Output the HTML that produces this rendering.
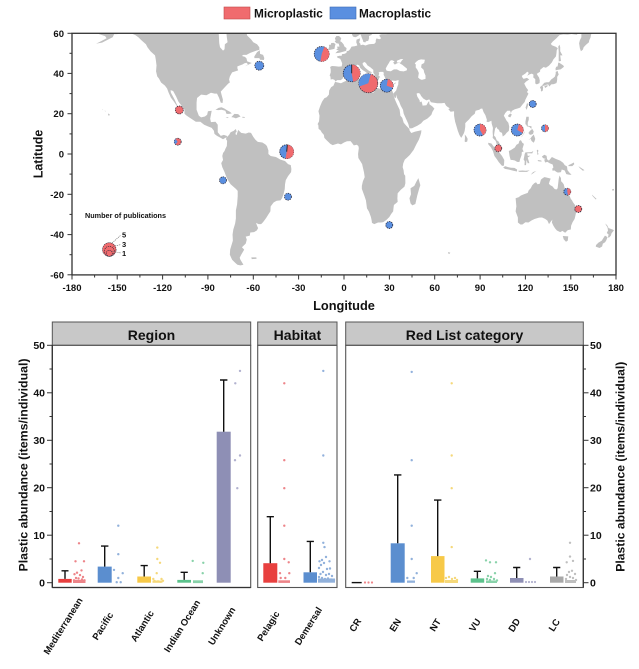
<!DOCTYPE html>
<html><head><meta charset="utf-8"><style>
html,body{margin:0;padding:0;background:#fff;}
svg{display:block;font-family:"Liberation Sans",Arial,sans-serif;font-weight:bold;}
</style></head><body>
<svg width="639" height="669" viewBox="0 0 639 669" xmlns="http://www.w3.org/2000/svg">
<defs><clipPath id="mc"><rect x="72" y="33.3" width="544" height="241.6"/></clipPath></defs>

<!-- Legend top -->
<rect x="224" y="7" width="26" height="12" fill="#f06b6e" stroke="#c24a4a" stroke-width="0.6"/>
<text x="254" y="17.5" font-size="11.8" fill="#111">Microplastic</text>
<rect x="330" y="7" width="26" height="12" fill="#5a8fe0" stroke="#3d6cb5" stroke-width="0.6"/>
<text x="359" y="17.5" font-size="11.8" fill="#111">Macroplastic</text>

<!-- MAP -->
<g clip-path="url(#mc)">
<g transform="translate(344 154) scale(1.512 -2.014)" fill="#c0c0c0">
<polygon points="-170,66 -166,62 -164,60.5 -162,59.5 -158,58.5 -157,57.5 -162,55.5 -164,54.8 -160,55.3 -155,57.2 -153,58 -152,59.5 -150,59.5 -148,60 -146,60.6 -141,60 -138,59 -136,58 -134,56.5 -131,54.5 -130,53 -128,51 -125,49 -124.5,47 -124,44 -124.3,41 -123.5,38.5 -122.4,37.5 -121,35.5 -118.5,34 -117,32.5 -116,30.5 -114.5,28 -112.5,26 -110,23.2 -109.5,23.2 -110.5,24.5 -112,27 -114.5,30.5 -114.7,31.7 -113,31.3 -111,28.5 -109.5,26 -107.5,24 -105.5,22 -105.5,20 -104,19 -101,17.5 -98,16 -95,16 -92.5,14.5 -90,13.7 -87.5,13 -86,11.5 -85.7,10 -84,9 -82,8.2 -80,7.3 -78.5,8 -77.3,8.5 -77.5,9 -79.5,9.5 -81.5,9 -83.5,10.8 -83.5,14.5 -85,16 -88,15.8 -88.5,17.5 -87.5,21.5 -90,21.2 -90.5,19.5 -92,18.6 -94.5,18.2 -96,19 -97.5,22 -97.5,25.5 -97.2,27.8 -94.5,29.5 -91,29.2 -89.5,29.8 -88,30.4 -85.5,30 -84,30 -82.7,28 -81.5,25.5 -80.3,25.3 -80.1,27 -81,29.5 -81.5,31 -79,33 -76.5,35 -75.5,35.5 -76,37 -75.5,38.5 -74,40.5 -72,41 -70,41.5 -70.5,42.5 -70.5,43.5 -67,44.5 -66,45 -64.5,45.3 -63.5,44.5 -65.5,43.5 -61,45.2 -64,46 -64.5,47.5 -65.5,48.2 -68,48.8 -71,47 -66.5,49.2 -64.5,49.2 -62,50.2 -58,51.3 -56,51.7 -56,53 -57.5,54.5 -60,55.5 -61.5,57 -64,58.8 -64.5,60.2 -65,62 -65,66"/>
<polygon points="-50,64 -50,62 -48,60.8 -45,60 -43,60 -42,61 -40,63 -38,64"/>
<polygon points="-59.3,47.6 -56,47.6 -55.5,46.8 -53,46.7 -52.7,47.6 -53.5,49.2 -55.5,49.7 -55.7,51.5 -57.5,50.6 -59.3,48.5"/>
<polygon points="-85,21.9 -83,22.9 -81,23.2 -79,22.5 -77.5,21.8 -75.5,21 -74.2,20.2 -76,19.9 -77.7,19.9 -78.5,21.5 -81,22 -83,21.8"/>
<polygon points="-74.5,18.3 -72.5,19.9 -70,19.8 -68.4,18.6 -70,18.2 -71.5,17.7 -73,18.1"/>
<polygon points="-78.3,18.4 -76.3,18.2 -76.8,17.8 -78,18.2"/>
<polygon points="-67.2,18.5 -65.6,18.4 -65.6,18 -67.2,18"/>
<polygon points="-156,20.2 -154.8,19.5 -155.5,18.9 -156,19.5"/>
<polygon points="-158.3,21.6 -157.6,21.3 -158,21.1"/>
<polygon points="-159.8,22.2 -159.3,22.1 -159.5,21.8"/>
<polygon points="-77.3,8.5 -76,9.5 -75,10.8 -73,11.5 -71.5,12.4 -71,11 -71.8,10.5 -71.5,9.5 -71,9.5 -70,12 -68,10.5 -65,10.1 -63,10.7 -61.5,10.5 -60,8.5 -58.5,7 -57,6 -54,5.7 -52,4.8 -51,4 -50,1.8 -50,0 -48.5,-1 -45,-1.5 -42,-2.8 -39,-3.5 -37,-5 -35.2,-5.5 -34.8,-7.5 -35,-9 -37,-11 -38.5,-13 -39,-15 -39.2,-17.5 -40,-20 -41,-22 -42,-23 -44.5,-23.2 -46.5,-24 -48.5,-26 -48.7,-28.5 -50,-30 -51.5,-31.8 -53.5,-33.8 -54.8,-34.8 -56.5,-34.8 -58.2,-34.2 -57.3,-36 -56.8,-36.8 -57.7,-38 -59.5,-38.8 -62,-39 -62.3,-40.5 -65,-41 -64.3,-42.5 -65,-44.5 -67.5,-46.3 -66,-47.5 -68,-50 -69,-51.5 -68.5,-52.5 -66.5,-55 -68.5,-55.3 -70.5,-55 -72,-54 -74,-52.5 -75.5,-50 -75.3,-47.5 -74.5,-45.5 -73.5,-43 -73.7,-40 -73.2,-37.5 -72,-34.5 -71.5,-32 -71.5,-28 -70.7,-25 -70.3,-21 -70.3,-18.3 -71.5,-17.3 -75,-15 -76.3,-13.5 -77.5,-12 -79,-9 -80.5,-6.5 -81.2,-4.5 -80,-3 -80.5,-1 -80,0.5 -79,1.5 -78.5,2.5 -77.5,4 -77.3,6.5 -78,7.3 -77.8,8.3"/>
<polygon points="-61.3,-51.3 -58,-51.3 -57.8,-52 -61,-52.2"/>
<polygon points="5,64 5,62 5,60.5 5.3,59.3 6,58.3 7.5,58 8.5,58.3 10,59 10.7,59.5 11.3,58.8 11.8,57.7 12.5,56.5 12.8,55.6 14.2,55.4 14.5,56 16,56.2 16.6,57.5 16.5,58.6 18,59 18.8,59.8 17.3,60.6 17.3,61.5 17.5,62.5 21.3,62.5 21.3,60.8 22.5,60 24,60 26,60.4 28,60.5 29.5,60 28,59.5 25,59.5 23.5,59.2 23.5,58.5 24.3,57.8 24.3,57.2 23.3,57 21.5,57.4 21,56.5 21,55.5 20,54.7 18.5,54.6 16.5,54.5 14.2,53.9 12.5,54.3 11,54 10.8,54.8 10,55.5 10.5,56.5 10.5,57.5 9.5,57.1 8.3,56.8 8.1,55.5 8.6,54.5 8.8,53.9 7,53.5 5,53.3 4,52 3.2,51.3 1.8,51 1.6,50.2 0.2,49.7 -1.3,49.6 -1.6,48.7 -3,48.8 -4.7,48.4 -4.3,47.8 -2.5,47.3 -2,46.5 -1.2,45 -1.5,43.5 -3.5,43.4 -5.5,43.6 -8,43.7 -9.2,43.2 -8.8,42 -8.8,40.5 -9.5,39 -9,38.5 -8.8,37.2 -8.9,37 -7.5,37.2 -6.3,36.8 -5.6,36 -4.5,36.7 -2.1,36.7 -0.7,37.6 0.1,38.8 -0.3,39.5 0.9,41 3.2,41.9 3.1,43 4.5,43.5 6.5,43.1 7.5,43.8 8.8,44.4 10.2,43.9 10.5,43 11.2,42.4 12.5,41.6 14,40.9 15.6,40 15.7,38.9 16,38 16.6,38.4 17.1,39 16.5,39.7 17.2,40.4 18.5,40.1 18,40.7 16,41.6 14,42.8 12.5,44.2 12.3,45.2 13.6,45.7 14.5,45.2 15.5,44 17.5,43 19.4,41.8 19.4,40.3 20.2,39.5 21,38.2 21.7,36.8 22.5,36.5 23.1,37.3 23.3,38 24,38.2 22.8,39 23.3,39.8 22.9,40.5 24,40.8 26,40.8 26.3,40.1 26.2,39.3 26.8,38.5 27.3,37.5 27.5,36.8 28.5,36.7 29.7,36.2 30.6,36.8 32,36.5 34,36.3 35.5,36.6 36.2,36.6 35.9,35.5 35.9,34.6 35.5,33.8 35,32.8 34.5,31.5 34.2,31.3 32.6,30 32.6,29.5 33.5,28 34.3,27.8 34.6,29.5 35,28 36.5,26 37.5,24 39,22 39.5,20 41,17.5 42.5,15 43.3,12.7 45,12.8 48.5,14 51,15.2 52.5,16.5 55,17.5 56.5,18.5 57.8,19.5 58.5,21 59.8,22.5 58.5,23.6 56.5,24.7 56.3,26.3 55.5,25.5 54.5,24.2 52,24 51.6,25.3 51.2,26.1 50.2,25.7 50,26.7 48.5,28.5 48,30 49,30.3 50.2,30 51,28.8 52.5,27.5 54.5,26.6 56.4,27.1 57.5,25.7 61.6,25.2 64.5,25.2 66.5,25.4 67.5,24 68.7,23.3 70,22.7 69,22.3 70.5,21 72.8,21.2 72.8,19 73.5,16 74.5,13.5 75.3,11.5 76.3,9.5 77.5,8 78.2,8.8 79.3,10.3 79.8,11.5 80.2,13.5 80.2,15.3 81.5,16.3 82.5,17 84.5,18.8 86.5,20 87,21.5 88.5,21.8 89.5,22 90.5,22.5 91.5,22.5 92.3,20.8 93.5,19.3 94.5,17 94.3,16 95.4,15.8 97.5,16.5 97.7,15 98.5,13 98.3,11 98.5,9 98.3,8 100.3,6.5 101,5 101.3,3 103.5,1.3 104.2,1.4 103.5,3 103.4,4.5 102.2,6.2 101,6.8 100.2,8.4 99.2,9.2 99.5,10.8 100,12.7 100.9,13.5 101.2,12.7 102.5,12 103,11 104.5,10.5 105,8.7 106.5,9.5 107.5,10.5 109,11.5 109.3,13.5 108.7,15.5 107.5,16.6 106.5,18 105.7,19 106.6,20.3 108,21.5 109.8,21.5 110.4,20.3 111,21.4 113,22.2 114.5,22.5 116.5,23 118,24.5 119.5,25.8 120,27 121,28.5 122,30 121,30.8 121.8,31.7 120.5,33 119.5,34.5 119.2,35 120.5,36 122.5,37 121,37.8 118.8,37.3 118,38 117.6,38.8 118.5,39.2 120,40 121.2,40.9 122.2,40.3 121.2,38.8 122.3,39.4 124.2,39.9 125.3,39.4 125.2,38 126.5,37.2 126.5,35 127.5,34.6 129.3,35.2 129.5,36.5 129,38 128.3,38.7 127.5,39.8 129.7,40.9 129.7,41.8 130.7,42.4 132,43.2 133.5,42.8 135.5,43.8 137.5,45.5 138.5,47 140.2,48.5 140.5,50 140.7,51.5 141.4,52.5 140.2,53.2 137.5,54 136.8,54.7 138,55.8 140.5,57.5 142.5,59 145,59.4 148,59.3 150.5,59.6 154,59.2 155,60.2 156,61.5 157,61.5 157,58 156,56.5 155.5,55 156,52.5 156.7,51 158,51.8 158.5,53 160,54.2 162,55.5 162.2,56.5 163,57.7 163.5,59.5 165,60.3 170,60.2 175,62 181,62 181,64"/>
<polygon points="-5.7,50 -3,50.3 1.4,51.2 1.7,52.6 0.3,53.4 -0.3,54.5 -1.6,55.6 -2.5,56 -1.8,57.5 -3.3,58.6 -5,58.6 -6,57.5 -5.5,56.3 -6.2,56 -5,55 -3.5,54.8 -3.2,54 -3,53.3 -4.6,53.3 -4.2,52.3 -5.2,51.8 -3.3,51.4 -4.2,51.2 -5.5,50.2"/>
<polygon points="-10,51.6 -6.3,52.2 -6,53.5 -5.6,54.6 -6.8,55.2 -8.5,55.1 -8.6,54.3 -10,54.2 -9.8,53.3 -10.3,52.2"/>
<polygon points="12.4,38.1 15.6,38.3 15.1,36.7 14.3,37 12.5,37.6"/>
<polygon points="8.4,39 9.8,39.1 9.7,40.8 9.2,41.2 8.2,40.9 8.5,39.8"/>
<polygon points="8.6,41.4 9.4,41.4 9.5,43 8.6,42.4"/>
<polygon points="23.5,35.5 26.3,35.4 26,34.9 24,35 23.5,35.2"/>
<polygon points="32.3,34.7 34.6,35.6 34,35 33,34.6"/>
<polygon points="79.8,6.2 80,8 79.9,9.7 81,8.6 81.8,7.5 81.5,6.2 80.5,5.9"/>
<polygon points="130.9,34 132.5,35.4 134,35.6 135.5,35.6 136,36 137,37 138.5,37.8 139.5,38.5 140,39.8 140,40.8 141.3,41.3 141.5,40.5 142,39.5 141,38.3 141,37 140.8,36 140.5,35.2 139.8,35 138.8,34.7 137,34.6 136.8,34.3 135.8,33.5 135,34.6 133.5,34.3 132,33.8 131,33.9"/>
<polygon points="129.8,33.3 130.9,34 131.7,33.3 131.5,31.5 130.7,31 130.2,31.4 130.3,32.5 129.6,32.6"/>
<polygon points="132.5,33.8 134.7,34.2 134.5,33.5 133,32.8"/>
<polygon points="140,41.5 141.2,41.8 143.3,42 145.5,43.3 145,44 142,45.5 141.6,45 141.3,43.5 140.4,43.3 139.9,42.5"/>
<polygon points="142,46 143.5,46.2 143,49 144.5,49 143,51 143,53 142.5,54.3 141.7,53.3 142,51 142,48"/>
<polygon points="120.1,23 121,25.2 122,25 121.5,23.5 120.8,21.9"/>
<polygon points="108.6,19.2 110,20.1 111,19.6 110,18.2 108.7,18.5"/>
<polygon points="120,16 120.6,18.5 122.2,18.5 122.2,17 121.5,15.5 121.6,14 124,13.8 124,12.5 122.5,13.5 121,13.7 120.6,14.5 120,14.8"/>
<polygon points="122,7 123.5,7.8 124,8.5 125.5,9.7 126.5,7.5 126,6.3 125.4,5.6 124,6.5 123.5,7.5"/>
<polygon points="122,10.5 123,11.5 124.5,12.5 125.5,11.2 125,10 123.5,9.5 122.5,9.8"/>
<polygon points="117.2,8.3 118.5,9.8 119.6,11.4 119.3,10.4 117.6,8.5"/>
<polygon points="109,1.5 109.5,-1 110.2,-2.9 111.5,-3 113,-3.2 114.5,-3.9 116,-4 116.5,-2.5 117.5,-0.5 117.6,1 118.8,1.2 118,2.5 119,5 118,5.5 117,6.9 116,6.5 115.5,5.2 114,4.5 113,3.2 111.5,2.5 110,1.8"/>
<polygon points="95.3,5.6 97.5,5.2 100.2,2.5 102,1.5 104.5,-1 106,-3 105.8,-5.8 104.5,-5.9 102.3,-4 101,-2.5 99.5,-1 98.5,1.5 97.2,3.3 95.5,4.7"/>
<polygon points="105.2,-6.8 106.5,-6 108.5,-6.5 110.5,-6.8 112.7,-6.9 114.5,-7.7 114.4,-8.7 112,-8.3 109.5,-7.8 106.5,-7.4 105.5,-6.9"/>
<polygon points="115,-8.4 118,-8.2 120,-8.3 122.8,-8.1 121,-8.9 116,-8.9"/>
<polygon points="123.5,-10.3 125,-9 127.2,-8.4 125,-9.6"/>
<polygon points="119.4,-5.5 119.5,-3.5 118.8,-2.8 119.5,0 120,0.8 124,0.9 125.2,1.5 124.5,0.3 121.2,0.4 121.5,-0.9 123.3,-0.8 121.5,-1.8 122.6,-4.5 121.5,-4.6 120.7,-2.9 120.4,-5.5"/>
<polygon points="128,-3 130.5,-3.2 130.7,-3.8 128.5,-3.6"/>
<polygon points="127.5,1.8 128,-0.5 128.7,0 128,1 128.7,1.5 128,2.2"/>
<polygon points="131,-1.2 132.5,-0.4 134,-0.9 134.3,-2.6 135.5,-3.3 137.5,-1.5 140,-2.4 143,-3.3 145,-4.4 146,-5.5 147.5,-6.2 147.8,-8 149,-9.2 150.5,-10.3 149,-10.3 147,-10 146,-8.2 144,-7.7 143.5,-9 142,-9.2 141,-9.1 139,-8.1 138,-8.4 137.7,-7.3 138.5,-6.7 138,-5.2 136,-4.6 134.5,-3.9 133,-4.2 132.4,-2.8 133.5,-2.4 132,-2.2 131,-1.5"/>
<polygon points="148.5,-5.5 150,-5 152,-4.2 152.3,-5 151,-6 148.5,-6"/>
<polygon points="155,-6 157,-7 159,-8 158,-8.3 156,-7"/>
<polygon points="113.5,-22 114,-26 113.5,-28.5 115,-31.5 115,-34 116.7,-35 118,-35 120,-33.9 122,-34 124,-33 126,-32.3 129,-31.6 131,-31.5 133,-32.2 134.5,-33 135.6,-34.8 136.8,-33.5 137.8,-32.6 137.5,-34 138.5,-35.6 139.6,-36.9 140.8,-38 143,-38.8 144.5,-38.2 145,-38.5 146.3,-39.1 148,-37.8 150,-37.5 150.2,-35.6 151.2,-33.8 152.5,-32.3 153.1,-30.5 153.6,-28.5 153.1,-26 152.8,-25.3 151.5,-24 150.8,-23 150,-22.3 149.3,-21 148.5,-20 147,-19.2 146.3,-18.5 146,-17 145.3,-15 144.5,-14.2 143.6,-13.5 143.5,-12 142.5,-10.7 142,-12.5 141.6,-15 141.3,-17 140.5,-17.6 139.3,-17.4 137.8,-16 136.5,-15.5 135.5,-14.8 136,-13.5 136.7,-12.2 135.5,-12 133.5,-11.6 132.5,-11.5 131,-12.2 130.2,-12.8 129.5,-14.8 128,-15 127,-14 125.8,-14.5 124.5,-15.5 123.5,-17 122.2,-18 121.5,-19.3 119,-20 117,-20.6 115.5,-21.5 114.2,-21.8"/>
<polygon points="144.7,-40.7 148.3,-40.9 148,-43 146.8,-43.6 145.3,-42.3"/>
<polygon points="172.7,-34.5 174,-35.3 175,-36.8 175.8,-37 178,-37.6 178.5,-38 177,-39.3 176.5,-40.5 175.2,-41.6 174.6,-41.3 175,-40 173.8,-39.2 174.6,-38 174.3,-36.5"/>
<polygon points="172.6,-40.5 174.3,-41.3 173.5,-42.8 172.7,-43.8 171.2,-44.5 170.7,-45.9 169,-46.7 166.5,-46 166.7,-45.2 168.3,-44 170.5,-43 171.5,-41.8"/>
<polygon points="164,-20.2 167,-22.3 166.5,-22.6 164.3,-20.8"/>
<polygon points="177.3,-17.5 178.6,-17.3 178.4,-18.2 177.4,-18.1"/>
<polygon points="68.8,-48.7 70.3,-49 69.8,-49.6 68.9,-49.4"/>
<polygon points="-5.9,35.8 -2,35.1 0,35.9 3,36.8 6.5,37 8.5,36.9 10,37.3 11,37 10.5,36.3 11,35.5 10.1,34.3 10.5,33.7 11.5,33.2 13,32.9 15.3,32.3 15.8,31.4 18,30.8 19.5,30.4 20.1,31.2 20,32.1 21.5,32.9 23,32.6 25,31.9 27,31.4 29,30.9 30.5,31.5 32,31.2 32.6,30 32.6,29.5 33.5,27.5 34,26.5 35.5,24 36.8,22 37.3,19 38.5,18 39.5,15.5 41.2,14 43.2,12.5 43.4,11.6 44.5,10.4 47,11.1 51.2,11.8 51,10.4 50.5,9.2 49.5,7.1 48,5 46,2 43.5,-0.5 41.5,-1.9 40.2,-2.8 39.2,-4.6 38.8,-6.5 39.4,-8 39.7,-10 40.5,-10.8 40.6,-14.5 40,-16.2 37.5,-17.8 35.5,-19.5 35.3,-22 35.5,-23.8 33,-25.3 32.8,-26.5 32.5,-28.5 31.2,-29.8 30,-31.3 28,-32.8 26,-33.8 24.5,-34 22.5,-34 20,-34.8 18.5,-34.2 18.3,-33 17.8,-31.3 16.5,-28.6 15.2,-27 14.5,-23 13.5,-20.8 11.8,-17.3 11.8,-15.8 12.5,-13.5 13.7,-11.5 13.2,-9 12.3,-6.1 12,-5 11,-3.8 9.5,-2 9.3,0 9.8,3 9.5,4 8.5,4.6 6.5,4.3 5,5.8 4.3,6.4 2,6.3 0,5.7 -2,4.8 -4,5.2 -7.5,4.4 -9,5 -11.5,6.8 -13,8 -13.3,9.5 -14.7,10.7 -15.5,11.7 -16.8,12.5 -17,14.5 -17.5,14.8 -16.5,16.2 -16.2,19 -16.9,21.3 -15.8,23.7 -14.5,26 -13,27.7 -11.5,28.2 -10,29.5 -9.8,31.5 -8.5,33.2 -7,33.9 -6.5,34.8"/>
<polygon points="49.2,-12 50.5,-15.5 49.8,-17 48.5,-20.5 47.2,-24.8 45.2,-25.5 44,-24.5 43.3,-22 44.3,-20 44,-17 46.5,-15.8 48,-13.5"/>
<g fill="#fff">
<polygon points="27.6,42.5 28,41.5 29,41.2 31,41.1 33,42 35,42 37,41.2 39.5,41 41.5,41.5 41.7,42.3 40,43.4 38.5,44.3 37.3,44.8 36.6,45.3 35.5,45.1 35,45 33.6,44.4 32.5,45.4 33.5,46 31.7,46.6 30.5,46.3 29.7,45.2 28.7,44 28,43"/>
<polygon points="35,45.5 35,46.3 37.5,47.1 39.2,47.2 38,46.2 37.6,45.5 36.5,45.3"/>
<polygon points="47.5,45.6 49.2,46.6 51,47 53.5,46.8 53,45.2 51.3,44.5 51,43 52.7,41.8 53,40.5 53.9,39 53.9,37.3 51.5,36.8 50.2,37.2 49,38 49.5,40.2 48.6,41.8 47.4,43 47.5,44.5 46.8,44.8"/>
<polygon points="-83,62 -82.5,55 -82,53 -80,51.3 -79,52 -78.8,54.5 -77,55.5 -77.5,58 -78,62"/>
</g>
</g>
</g>

<!-- map frame -->
<g stroke="#333" stroke-width="1.3" fill="none">
<rect x="72" y="33.3" width="544" height="241.6"/>
</g>
<g stroke="#333" stroke-width="1">
<line x1="67.5" y1="33.3" x2="72" y2="33.3"/><line x1="67.5" y1="73.4" x2="72" y2="73.4"/><line x1="67.5" y1="113.7" x2="72" y2="113.7"/><line x1="67.5" y1="154" x2="72" y2="154"/><line x1="67.5" y1="194.3" x2="72" y2="194.3"/><line x1="67.5" y1="234.6" x2="72" y2="234.6"/><line x1="67.5" y1="274.8" x2="72" y2="274.8"/>
<line x1="69.5" y1="53.3" x2="72" y2="53.3"/><line x1="69.5" y1="93.6" x2="72" y2="93.6"/><line x1="69.5" y1="133.9" x2="72" y2="133.9"/><line x1="69.5" y1="174.1" x2="72" y2="174.1"/><line x1="69.5" y1="214.4" x2="72" y2="214.4"/><line x1="69.5" y1="254.7" x2="72" y2="254.7"/>
<line x1="72" y1="275" x2="72" y2="279.5"/><line x1="117.2" y1="275" x2="117.2" y2="279.5"/><line x1="162.6" y1="275" x2="162.6" y2="279.5"/><line x1="207.9" y1="275" x2="207.9" y2="279.5"/><line x1="253.3" y1="275" x2="253.3" y2="279.5"/><line x1="298.6" y1="275" x2="298.6" y2="279.5"/><line x1="344" y1="275" x2="344" y2="279.5"/><line x1="389.4" y1="275" x2="389.4" y2="279.5"/><line x1="434.7" y1="275" x2="434.7" y2="279.5"/><line x1="480.1" y1="275" x2="480.1" y2="279.5"/><line x1="525.4" y1="275" x2="525.4" y2="279.5"/><line x1="570.8" y1="275" x2="570.8" y2="279.5"/><line x1="616" y1="275" x2="616" y2="279.5"/>
<line x1="94.6" y1="275" x2="94.6" y2="277.5"/><line x1="139.9" y1="275" x2="139.9" y2="277.5"/><line x1="185.3" y1="275" x2="185.3" y2="277.5"/><line x1="230.6" y1="275" x2="230.6" y2="277.5"/><line x1="276" y1="275" x2="276" y2="277.5"/><line x1="321.3" y1="275" x2="321.3" y2="277.5"/><line x1="366.7" y1="275" x2="366.7" y2="277.5"/><line x1="412" y1="275" x2="412" y2="277.5"/><line x1="457.4" y1="275" x2="457.4" y2="277.5"/><line x1="502.7" y1="275" x2="502.7" y2="277.5"/><line x1="548.1" y1="275" x2="548.1" y2="277.5"/><line x1="593.4" y1="275" x2="593.4" y2="277.5"/>
</g>
<g font-size="9.5" fill="#111" text-anchor="end">
<text x="64" y="36.8">60</text><text x="64" y="76.9">40</text><text x="64" y="117.2">20</text><text x="64" y="157.5">0</text><text x="64" y="197.8">-20</text><text x="64" y="238.1">-40</text><text x="64" y="278.3">-60</text>
</g>
<g font-size="9.5" fill="#111" text-anchor="middle">
<text x="72" y="291">-180</text><text x="117.2" y="291">-150</text><text x="162.6" y="291">-120</text><text x="207.9" y="291">-90</text><text x="253.3" y="291">-60</text><text x="298.6" y="291">-30</text><text x="344" y="291">0</text><text x="389.4" y="291">30</text><text x="434.7" y="291">60</text><text x="480.1" y="291">90</text><text x="525.4" y="291">120</text><text x="570.8" y="291">150</text><text x="616" y="291">180</text>
</g>
<text x="344" y="310" font-size="12.8" text-anchor="middle" fill="#111">Longitude</text>
<text transform="translate(42.5 154) rotate(-90)" font-size="12.5" text-anchor="middle" fill="#111">Latitude</text>

<!-- pies -->
<g stroke="#223" stroke-width="0.7" stroke-dasharray="1.4 0.9">
<circle cx="259.3" cy="65.7" r="4.5" fill="#5a8fe0"/>
<circle cx="179.3" cy="110" r="4" fill="#f06b6e"/>
<circle cx="177.7" cy="141.7" r="3.5" fill="#f06b6e"/>
<circle cx="286.7" cy="151.7" r="7" fill="#5a8fe0"/>
<circle cx="223" cy="180.3" r="3.5" fill="#5a8fe0"/>
<circle cx="288" cy="196.7" r="3.5" fill="#5a8fe0"/>
<circle cx="321.7" cy="54" r="7.5" fill="#5a8fe0"/>
<circle cx="351.7" cy="73.3" r="8.5" fill="#5a8fe0"/>
<circle cx="368.3" cy="83.3" r="9.5" fill="#f06b6e"/>
<circle cx="386.7" cy="85.7" r="6.5" fill="#5a8fe0"/>
<circle cx="532.7" cy="104" r="3.5" fill="#5a8fe0"/>
<circle cx="480" cy="130" r="6" fill="#5a8fe0"/>
<circle cx="517.3" cy="130" r="6" fill="#5a8fe0"/>
<circle cx="545" cy="128.3" r="3.5" fill="#5a8fe0"/>
<circle cx="498.3" cy="148.3" r="3.5" fill="#f06b6e"/>
<circle cx="389.3" cy="225" r="3.5" fill="#5a8fe0"/>
<circle cx="567.3" cy="191.7" r="3.5" fill="#5a8fe0"/>
<circle cx="578.3" cy="209" r="3.5" fill="#f06b6e"/>
</g>
<g stroke="none">
<path d="M286.7,151.7 L287.31,144.73 A7,7 0 1 1 285.48,158.59 Z" fill="#f06b6e"/>
<path d="M321.7,54 L324.27,46.95 A7.5,7.5 0 0 1 320.40,61.39 Z" fill="#f06b6e"/>
<path d="M351.7,73.3 L351.7,64.8 A8.5,8.5 0 0 1 353.18,81.67 Z" fill="#f06b6e"/>
<path d="M368.3,83.3 L359.37,86.55 A9.5,9.5 0 0 1 370.76,74.12 Z" fill="#5a8fe0"/>
<path d="M386.7,85.7 L387.83,79.30 A6.5,6.5 0 0 1 392.81,87.92 Z" fill="#f06b6e"/>
<path d="M480,130 L480,124 A6,6 0 0 1 483,135.2 Z" fill="#f06b6e"/>
<path d="M517.3,130 L518.85,124.2 A6,6 0 0 1 522.5,133 Z" fill="#f06b6e"/>
<path d="M545,128.3 L545,124.8 A3.5,3.5 0 0 1 545,131.8 Z" fill="#f06b6e"/>
<path d="M567.3,191.7 L567.3,188.2 A3.5,3.5 0 0 1 567.91,195.15 Z" fill="#f06b6e"/>
<path d="M177.7,141.7 L175.45,144.38 A3.5,3.5 0 0 1 175.45,139.02 Z" fill="#5a8fe0"/>
</g>
<g stroke="#222" stroke-width="0.9">
<line x1="286.7" y1="151.7" x2="287.3" y2="144.7"/>
<line x1="351.7" y1="73.3" x2="351.7" y2="64.8"/>
</g>

<!-- bubble legend -->
<text x="85" y="218" font-size="7" fill="#111" textLength="81" lengthAdjust="spacingAndGlyphs">Number of publications</text>
<g stroke="#223" stroke-width="0.6" stroke-dasharray="1.2 0.8">
<circle cx="109.3" cy="249.5" r="6.8" fill="#f06b6e"/>
<circle cx="109.3" cy="251.3" r="5" fill="#f06b6e"/>
<circle cx="109.3" cy="253.3" r="3" fill="#f06b6e"/>
</g>
<g stroke="#666" stroke-width="0.6" stroke-dasharray="1.2 0.8">
<line x1="112" y1="243" x2="121" y2="235"/>
<line x1="113" y1="246.5" x2="121" y2="244.5"/>
<line x1="111.5" y1="251" x2="121" y2="253"/>
</g>
<g font-size="7.5" fill="#111">
<text x="122" y="237.5">5</text><text x="122" y="247">3</text><text x="122" y="256">1</text>
</g>

<!-- ===== BAR CHART ===== -->
<g fill="#c8c8c8" stroke="#555" stroke-width="1">
<rect x="52.3" y="322" width="198.4" height="23.3"/>
<rect x="257.7" y="322" width="79.3" height="23.3"/>
<rect x="345.7" y="322" width="237.6" height="23.3"/>
</g>
<g font-size="14" fill="#111" text-anchor="middle">
<text x="151.5" y="340">Region</text>
<text x="297.4" y="340">Habitat</text>
<text x="464.5" y="340">Red List category</text>
</g>
<g fill="none" stroke="#555" stroke-width="1.1">
<rect x="52.3" y="345.3" width="198.4" height="242.2"/>
<rect x="257.7" y="345.3" width="79.3" height="242.2"/>
<rect x="345.7" y="345.3" width="237.6" height="242.2"/>
</g>
<line x1="52.3" y1="345" x2="52.3" y2="587.5" stroke="#333" stroke-width="1.3"/>
<line x1="52.3" y1="587.5" x2="250.7" y2="587.5" stroke="#333" stroke-width="1.3"/>
<line x1="583.3" y1="345" x2="583.3" y2="587.5" stroke="#333" stroke-width="1.3"/>
<g stroke="#333" stroke-width="1">
<line x1="47" y1="345.3" x2="52.3" y2="345.3"/><line x1="47" y1="392.8" x2="52.3" y2="392.8"/><line x1="47" y1="440.3" x2="52.3" y2="440.3"/><line x1="47" y1="487.7" x2="52.3" y2="487.7"/><line x1="47" y1="535.2" x2="52.3" y2="535.2"/><line x1="47" y1="582.7" x2="52.3" y2="582.7"/>
<line x1="49.5" y1="369" x2="52.3" y2="369"/><line x1="49.5" y1="416.5" x2="52.3" y2="416.5"/><line x1="49.5" y1="464" x2="52.3" y2="464"/><line x1="49.5" y1="511.5" x2="52.3" y2="511.5"/><line x1="49.5" y1="559" x2="52.3" y2="559"/>
<line x1="583.3" y1="345.3" x2="588.5" y2="345.3"/><line x1="583.3" y1="392.8" x2="588.5" y2="392.8"/><line x1="583.3" y1="440.3" x2="588.5" y2="440.3"/><line x1="583.3" y1="487.7" x2="588.5" y2="487.7"/><line x1="583.3" y1="535.2" x2="588.5" y2="535.2"/><line x1="583.3" y1="582.7" x2="588.5" y2="582.7"/>
<line x1="583.3" y1="369" x2="586" y2="369"/><line x1="583.3" y1="416.5" x2="586" y2="416.5"/><line x1="583.3" y1="464" x2="586" y2="464"/><line x1="583.3" y1="511.5" x2="586" y2="511.5"/><line x1="583.3" y1="559" x2="586" y2="559"/>
</g>
<g font-size="10.5" fill="#111" text-anchor="end">
<text x="45" y="349">50</text><text x="45" y="396.5">40</text><text x="45" y="444">30</text><text x="45" y="491.4">20</text><text x="45" y="538.9">10</text><text x="45" y="586.4">0</text>
</g>
<g font-size="10.5" fill="#111">
<text x="590" y="349">50</text><text x="590" y="396.5">40</text><text x="590" y="444">30</text><text x="590" y="491.4">20</text><text x="590" y="538.9">10</text><text x="590" y="586.4">0</text>
</g>
<text transform="translate(27.5 465) rotate(-90)" font-size="12.3" text-anchor="middle" fill="#111" textLength="213" lengthAdjust="spacingAndGlyphs">Plastic abundance (items/individual)</text>
<text transform="translate(624.5 466.7) rotate(-90)" font-size="12.3" text-anchor="middle" fill="#111" textLength="210" lengthAdjust="spacingAndGlyphs">Plastic abundance (items/individual)</text>

<rect x="58.3" y="578.9" width="13.4" height="3.8" fill="#e8403f"/>
<rect x="97.7" y="566.6" width="14" height="16.1" fill="#5b8ecf"/>
<rect x="137.3" y="576.5" width="13.7" height="6.2" fill="#f7c948"/>
<rect x="177.3" y="579.9" width="13.7" height="2.8" fill="#5cc28c"/>
<rect x="216.7" y="431.7" width="14" height="151" fill="#8e8fb5"/>
<rect x="263.3" y="563.2" width="14" height="19.5" fill="#e8403f"/>
<rect x="303.5" y="572.3" width="13.5" height="10.4" fill="#5b8ecf"/>
<rect x="390.7" y="543.3" width="14" height="39.4" fill="#5b8ecf"/>
<rect x="431" y="556.1" width="13.5" height="26.6" fill="#f7c948"/>
<rect x="470.7" y="578.4" width="13.5" height="4.3" fill="#5cc28c"/>
<rect x="510" y="578" width="13.5" height="4.7" fill="#8e8fb5"/>
<rect x="550" y="576.5" width="13.5" height="6.2" fill="#a8a8a8"/>

<g stroke="#111" stroke-width="1.4" fill="none">
<path d="M65,578.9 V570.8 M61.5,570.8 H68.5"/>
<path d="M104.7,566.6 V546.1 M101,546.1 H108.4"/>
<path d="M144.2,576.5 V565.6 M140.6,565.6 H147.8"/>
<path d="M184.2,579.9 V572.3 M180.6,572.3 H187.8"/>
<path d="M223.7,431.7 V380 M220,380 H227.4"/>
<path d="M270.3,563.2 V516.7 M266.7,516.7 H273.9"/>
<path d="M310.3,572.3 V541.4 M306.7,541.4 H313.9"/>
<path d="M351.7,582.6 H361.7"/>
<path d="M397.7,543.3 V474.9 M394,474.9 H401.4"/>
<path d="M437.7,556.1 V500.1 M434,500.1 H441.4"/>
<path d="M477.4,578.4 V571.3 M473.8,571.3 H481"/>
<path d="M516.7,578 V567.5 M513.1,567.5 H520.3"/>
<path d="M556.7,576.5 V567.5 M553.1,567.5 H560.3"/>
</g>

<g fill="#e85c62" opacity="0.75">
<circle cx="79" cy="543.3" r="1.2"/><circle cx="75.5" cy="561.3" r="1.2"/><circle cx="84" cy="561.3" r="1.2"/><circle cx="81.5" cy="570.4" r="1.2"/><circle cx="77" cy="572.7" r="1.2"/><circle cx="74.5" cy="574.2" r="1.2"/><circle cx="80" cy="575.1" r="1.2"/><circle cx="83" cy="577" r="1.2"/><circle cx="76" cy="578" r="1.2"/><circle cx="78.5" cy="578.4" r="1.2"/><circle cx="82" cy="579.4" r="1.2"/><circle cx="84.5" cy="580.3" r="1.2"/><circle cx="74" cy="580.3" r="1.2"/>
<rect x="73" y="579.8" width="12.5" height="3.2"/>
<circle cx="284.3" cy="383.3" r="1.2"/><circle cx="284.3" cy="460.2" r="1.2"/><circle cx="284.3" cy="488.2" r="1.2"/><circle cx="284.3" cy="525.7" r="1.2"/><circle cx="284.3" cy="559" r="1.2"/><circle cx="288.7" cy="562.3" r="1.2"/><circle cx="280" cy="573.2" r="1.2"/><circle cx="289.3" cy="573.2" r="1.2"/><circle cx="280.7" cy="578" r="1.2"/><circle cx="285.3" cy="578" r="1.2"/>
<rect x="278.3" y="580.3" width="11.7" height="2.6"/>
<circle cx="365" cy="582.5" r="1.1"/><circle cx="368.5" cy="582.5" r="1.1"/><circle cx="372" cy="582.5" r="1.1"/>
</g>
<g fill="#6d97d0" opacity="0.75">
<circle cx="118.3" cy="525.7" r="1.2"/><circle cx="118.3" cy="554.2" r="1.2"/><circle cx="114" cy="569.9" r="1.2"/><circle cx="122.7" cy="573.2" r="1.2"/><circle cx="118.3" cy="578" r="1.2"/><circle cx="116.7" cy="582.2" r="1.2"/><circle cx="120.7" cy="582.2" r="1.2"/>
<circle cx="323.3" cy="370.9" r="1.2"/><circle cx="323.3" cy="455.5" r="1.2"/><circle cx="323.3" cy="542.8" r="1.2"/><circle cx="324.5" cy="547.1" r="1.2"/>
<circle cx="319.5" cy="561.3" r="1.2"/><circle cx="322" cy="560" r="1.2"/><circle cx="326" cy="557" r="1.2"/><circle cx="329.5" cy="561.3" r="1.2"/><circle cx="321" cy="565" r="1.2"/><circle cx="324" cy="563" r="1.2"/><circle cx="319" cy="568" r="1.2"/><circle cx="327" cy="569" r="1.2"/><circle cx="330" cy="568.5" r="1.2"/><circle cx="323" cy="572" r="1.2"/><circle cx="320.5" cy="574" r="1.2"/><circle cx="326" cy="575" r="1.2"/><circle cx="329" cy="574" r="1.2"/><circle cx="332" cy="576" r="1.2"/><circle cx="319" cy="577" r="1.2"/><circle cx="322" cy="578" r="1.2"/><circle cx="325" cy="579" r="1.2"/><circle cx="328" cy="578.5" r="1.2"/><circle cx="331" cy="579.5" r="1.2"/><circle cx="334" cy="580" r="1.2"/>
<rect x="318" y="578.5" width="17" height="4.2"/>
<circle cx="411.7" cy="371.9" r="1.2"/><circle cx="411.7" cy="460.2" r="1.2"/><circle cx="411.7" cy="525.7" r="1.2"/><circle cx="411.7" cy="559" r="1.2"/><circle cx="416.7" cy="573.2" r="1.2"/><circle cx="407.3" cy="578" r="1.2"/><circle cx="413.7" cy="578" r="1.2"/>
<rect x="407" y="580.5" width="8" height="2.3"/>
</g>
<g fill="#f3cf5a" opacity="0.8">
<circle cx="157.3" cy="547.6" r="1.2"/><circle cx="157.3" cy="559" r="1.2"/><circle cx="160" cy="562.8" r="1.2"/><circle cx="156.7" cy="573.2" r="1.2"/><circle cx="153.3" cy="578.9" r="1.2"/><circle cx="161.5" cy="579" r="1.2"/><circle cx="154.5" cy="581" r="1.2"/><circle cx="158" cy="581.3" r="1.2"/><circle cx="160.5" cy="581.8" r="1.2"/><circle cx="163" cy="580.8" r="1.2"/>
<rect x="152.5" y="580.5" width="10" height="2.3"/>
<circle cx="451.7" cy="383.3" r="1.2"/><circle cx="451.7" cy="455.5" r="1.2"/><circle cx="451.7" cy="488.2" r="1.2"/><circle cx="451.7" cy="547.1" r="1.2"/><circle cx="446" cy="578" r="1.2"/><circle cx="449" cy="577" r="1.2"/><circle cx="452" cy="579" r="1.2"/><circle cx="455" cy="578" r="1.2"/><circle cx="457" cy="580" r="1.2"/>
<rect x="445" y="580" width="13" height="3"/>
</g>
<g fill="#6cc895" opacity="0.8">
<circle cx="192.7" cy="560.9" r="1.2"/><circle cx="203.3" cy="562.8" r="1.2"/><circle cx="202.7" cy="573.2" r="1.2"/>
<rect x="193" y="580.3" width="10" height="2.8"/>
<circle cx="486" cy="560.4" r="1.2"/><circle cx="490" cy="562.3" r="1.2"/><circle cx="496" cy="562.3" r="1.2"/><circle cx="495" cy="573.2" r="1.2"/><circle cx="488" cy="576" r="1.2"/><circle cx="491" cy="577" r="1.2"/><circle cx="487" cy="579" r="1.2"/><circle cx="490" cy="580" r="1.2"/><circle cx="494" cy="579" r="1.2"/><circle cx="497" cy="580.5" r="1.2"/>
<rect x="486" y="580.5" width="11" height="2.5"/>
</g>
<g fill="#a0a0c4" opacity="0.8">
<circle cx="235.3" cy="383.3" r="1.2"/><circle cx="240" cy="370.9" r="1.2"/><circle cx="235" cy="460.2" r="1.2"/><circle cx="240" cy="455.5" r="1.2"/><circle cx="237.3" cy="488.2" r="1.2"/>
<circle cx="530" cy="559" r="1.2"/><circle cx="526" cy="582" r="1.1"/><circle cx="529" cy="582" r="1.1"/><circle cx="532" cy="582" r="1.1"/><circle cx="535" cy="582" r="1.1"/>
</g>
<g fill="#b5b5b5" opacity="0.85">
<circle cx="570" cy="542.8" r="1.2"/><circle cx="570" cy="556.6" r="1.2"/><circle cx="573" cy="560.9" r="1.2"/><circle cx="566.7" cy="562.3" r="1.2"/><circle cx="572" cy="570.8" r="1.2"/><circle cx="569" cy="572" r="1.2"/><circle cx="575" cy="574" r="1.2"/><circle cx="567" cy="575" r="1.2"/><circle cx="570" cy="577" r="1.2"/><circle cx="573" cy="578" r="1.2"/><circle cx="566" cy="579" r="1.2"/><circle cx="576" cy="580" r="1.2"/>
<rect x="565" y="580" width="11" height="3"/>
</g>

<g font-size="9.5" fill="#111" text-anchor="middle">
<text transform="translate(63 626) rotate(-58)" dy="0.35em">Mediterranean</text>
<text transform="translate(102.7 626) rotate(-58)" dy="0.35em">Pacific</text>
<text transform="translate(142.2 626) rotate(-58)" dy="0.35em">Atlantic</text>
<text transform="translate(182 626) rotate(-58)" dy="0.35em">Indian Ocean</text>
<text transform="translate(221.7 626) rotate(-58)" dy="0.35em">Unknown</text>
<text transform="translate(268.3 626) rotate(-58)" dy="0.35em">Pelagic</text>
<text transform="translate(308.3 626) rotate(-58)" dy="0.35em">Demersal</text>
<text transform="translate(355.2 625) rotate(-58)" dy="0.35em">CR</text>
<text transform="translate(395.2 625) rotate(-58)" dy="0.35em">EN</text>
<text transform="translate(435.2 625) rotate(-58)" dy="0.35em">NT</text>
<text transform="translate(474.8 625) rotate(-58)" dy="0.35em">VU</text>
<text transform="translate(514.2 625) rotate(-58)" dy="0.35em">DD</text>
<text transform="translate(554.2 625) rotate(-58)" dy="0.35em">LC</text>
</g>
</svg>
</body></html>
